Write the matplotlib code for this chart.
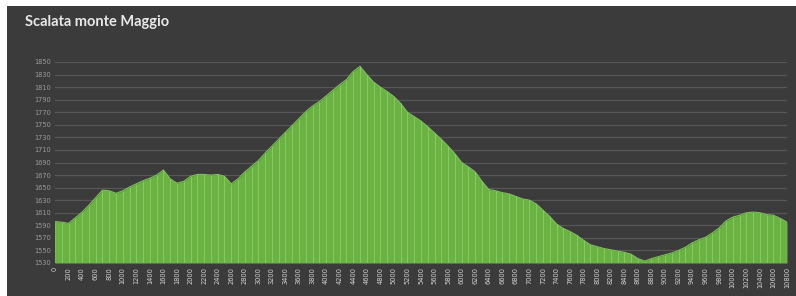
import matplotlib.pyplot as plt
import matplotlib.patches as patches

# Elevation profile, one point every 100 m
distance = list(range(0, 10900, 100))
elevation = [
    1596, 1595, 1593, 1602, 1611, 1622, 1634, 1646, 1645, 1641,
    1645, 1651, 1656, 1661, 1665, 1670, 1678, 1664, 1657, 1660,
    1668, 1671, 1671, 1670, 1671, 1668, 1656, 1664, 1675, 1684,
    1693, 1705, 1716, 1727, 1738, 1749, 1760, 1771, 1780, 1787,
    1796, 1805, 1814, 1822, 1835, 1843, 1830, 1818, 1810, 1803,
    1795, 1784, 1770, 1763, 1756, 1747, 1737, 1727, 1716, 1704,
    1690, 1683, 1675, 1660, 1647, 1645, 1642, 1640, 1636, 1632,
    1630, 1624, 1614, 1604, 1592, 1585, 1580, 1574, 1566, 1559,
    1556, 1553, 1551, 1549, 1547, 1544, 1537, 1533, 1537, 1540,
    1543, 1546, 1550, 1555, 1562, 1567, 1571, 1578, 1586, 1597,
    1603, 1606, 1610, 1611, 1610, 1607, 1606, 1601, 1595,
]
y_ticks = list(range(1530, 1851, 20))
x_labels = [str(d) for d in distance[::2]]

bg = "#3b3b3b"
green = "#6ab343"

fig = plt.figure(figsize=(7.96, 2.96), dpi=100, facecolor="white")
# dark chart panel with a thin white margin on the top/left
fig.patches.append(patches.Rectangle((7 / 796, 0), 1, 1 - 6 / 296,
                                     transform=fig.transFigure, facecolor=bg,
                                     edgecolor="none", zorder=-10))

ax = fig.add_axes([55 / 796, 1 - 263 / 296, 732 / 796, 201 / 296])
ax.set_zorder(5)
ax.set_facecolor(bg)

x = list(range(len(distance)))
ax.fill_between(x, 1530, elevation, color=green, lw=0, zorder=2)
ax.plot(x, elevation, color="#7cc257", lw=0.8, zorder=3)
ax.vlines(x, 1530, elevation, color="#95d275", lw=0.7, alpha=0.7, zorder=3)

ax.set_xlim(0, len(distance) - 1)
ax.set_ylim(1530, 1850)
ax.set_yticks(y_ticks)
ax.set_yticklabels([str(v) for v in y_ticks], fontsize=4.8, color="#9a9a9a")
ax.set_xticks(x[::2])
ax.set_xticklabels(x_labels, rotation=90, fontsize=4.8, color="#d2d2d2")
ax.tick_params(length=0, pad=3)
ax.grid(axis="y", color="#575757", lw=0.9, zorder=1)
ax.set_axisbelow(True)
for s in ax.spines.values():
    s.set_visible(False)

fig.text(25 / 796, 1 - 22 / 296, "Scalata monte Maggio", fontsize=10.5,
         fontweight="bold", family="Lato", color="#e8e8e8", va="center",
         zorder=6)

fig.savefig("out.png", dpi=100, facecolor=fig.get_facecolor())
